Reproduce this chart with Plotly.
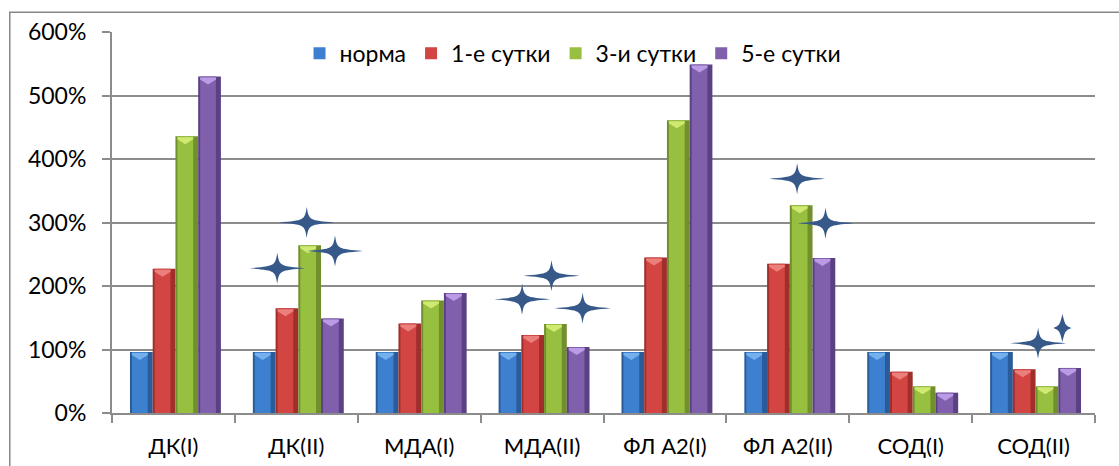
import plotly.graph_objects as go

# Categories and series values (percent of norm)
categories = ["ДК(I)", "ДК(II)", "МДА(I)", "МДА(II)", "ФЛ А2(I)", "ФЛ А2(II)", "СОД(I)", "СОД(II)"]
series_names = ["норма", "1-е сутки", "3-и сутки", "5-е сутки"]
norma = [96, 96, 96, 96, 96, 96, 96, 96]
day1 = [227, 165, 141, 123, 245, 235, 65, 69]
day3 = [436, 264, 177, 140, 461, 327, 42, 42]
day5 = [530, 149, 189, 104, 549, 244, 32, 71]

# Significance stars: category index, offset inside the group, level (%)
star_cat = [1, 1, 1, 3, 3, 3, 5, 5, 7, 7]
star_shift = [-0.155, 0.085, 0.315, -0.162, 0.077, 0.33, 0.076, 0.307, 0.037, 0.235]
star_level = [228, 300, 255, 179, 216, 165, 369, 299, 110, 134]
star_kind = ["wide", "wide", "wide", "wide", "wide", "wide", "wide", "wide", "wide", "narrow"]

y_ticks = [0, 100, 200, 300, 400, 500, 600]

light = ["#3D80D0", "#D24542", "#98C040", "#8060AC"]
dark = ["#2A5C9A", "#A02E2B", "#718F2C", "#5A4184"]
cap = ["#7FB8F2", "#F08A86", "#D8F07A", "#C6A6F0"]

FONT = "Lato, 'Open Sans', sans-serif"

BAR_W = 0.185          # bar width in category units
GROUP_W = 4 * BAR_W
PX = 1 / 122.9         # one screen pixel in category units
START = -GROUP_W / 2 + 2 * PX

fig = go.Figure()
all_vals = [norma, day1, day3, day5]

# darker body of each bar (gives the shaded edges)
for i, (name, vals) in enumerate(zip(series_names, all_vals)):
    fig.add_trace(go.Bar(
        x=categories, y=vals, name=name, showlegend=False,
        width=BAR_W, offset=START + i * BAR_W,
        marker=dict(color=dark[i], line=dict(width=0)),
    ))
# lighter face of each bar
for i, (name, vals) in enumerate(zip(series_names, all_vals)):
    fig.add_trace(go.Bar(
        x=categories, y=vals, name=name,
        width=BAR_W - 7 * PX, offset=START + i * BAR_W + 2 * PX,
        marker=dict(color=light[i], line=dict(width=0)),
    ))

# hidden linear axis used to place the stars and caps between category centres
fig.add_trace(go.Scatter(x=[-0.5, 7.5], y=[0, 0], xaxis="x2", mode="markers",
                         marker=dict(opacity=0), showlegend=False, hoverinfo="skip"))

shapes = []

# light chevron on top of every bar
for i, vals in enumerate(all_vals):
    for ci, v in enumerate(vals):
        centre = ci + START + i * BAR_W + BAR_W / 2 - 1.5 * PX
        shapes.append(dict(
            type="path", xref="x2", yref="y",
            xsizemode="pixel", ysizemode="pixel",
            xanchor=centre, yanchor=v,
            path="M -8,-1 L 8,-1 L 8,-3 L 0,-8 L -8,-3 Z",
            fillcolor=cap[i], line=dict(width=0), opacity=0.85,
        ))


def star_path(w, h, c):
    a, b = w / 2, h / 2
    return (f"M {-a},0 C {-c},{-c} {-c},{-c} 0,{-b} C {c},{-c} {c},{-c} {a},0 "
            f"C {c},{c} {c},{c} 0,{b} C {-c},{c} {-c},{c} {-a},0 Z")


for ci, sh, lv, kind in zip(star_cat, star_shift, star_level, star_kind):
    if kind == "wide":
        w, h, c = 56, 31, 2.2
    else:
        w, h, c = 18, 28, 2.8
    shapes.append(dict(
        type="path", xref="x2", yref="y",
        xsizemode="pixel", ysizemode="pixel",
        xanchor=ci + sh, yanchor=lv,
        path=star_path(w, h, c),
        fillcolor="#36598A", line=dict(width=0),
    ))

# outer chart frame
shapes.append(dict(type="rect", xref="paper", yref="paper",
                   x0=-0.104, x1=1.2, y0=-0.3, y1=1.0516,
                   line=dict(color="#878787", width=1.5), fillcolor="rgba(0,0,0,0)",
                   layer="below"))

fig.update_layout(
    width=1119, height=466,
    margin=dict(l=112, r=24, t=32, b=53),
    paper_bgcolor="white", plot_bgcolor="white",
    barmode="overlay",
    font=dict(family=FONT, size=23, color="#000000"),
    showlegend=True,
    legend=dict(orientation="h", x=0.469, xanchor="center", y=0.944, yanchor="middle",
                font=dict(family=FONT, size=23, color="#000000"),
                bgcolor="rgba(0,0,0,0)"),
    xaxis=dict(
        type="category", range=[-0.5, 7.5], automargin=False,
        showline=True, linecolor="#8C8C8C", linewidth=2,
        ticks="outside", tickson="boundaries", ticklen=8, tickcolor="#8C8C8C", tickwidth=2,
        showgrid=False, ticklabelstandoff=13,
        tickfont=dict(family=FONT, size=22, color="#000000"),
    ),
    xaxis2=dict(overlaying="x", range=[-0.5, 7.5], visible=False),
    yaxis=dict(
        range=[0, 600], tickvals=y_ticks, ticktext=[f"{v}%" for v in y_ticks],
        automargin=False,
        showline=True, linecolor="#8C8C8C", linewidth=2,
        ticks="outside", ticklen=8, tickcolor="#8C8C8C", tickwidth=2,
        showgrid=True, gridcolor="#8C8C8C", gridwidth=2,
        zeroline=False, ticklabelstandoff=11,
        tickfont=dict(family=FONT, size=23, color="#000000"),
    ),
    shapes=shapes,
)

fig.write_html("out.html")
